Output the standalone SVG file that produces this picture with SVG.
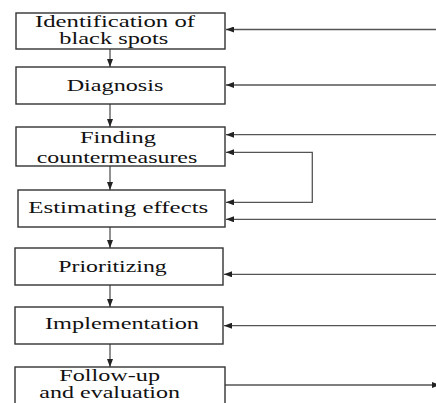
<svg xmlns="http://www.w3.org/2000/svg" width="436" height="403" viewBox="0 0 436 403">
<defs>
<style>
.box{fill:#fff;stroke:#333;stroke-width:1.4}
.t{font-family:'Liberation Serif','DejaVu Serif',serif;font-size:17px;fill:#111}
.c{fill:none;stroke:#555;stroke-width:1.3}
</style>
<marker id="ah" viewBox="0 0 8 6" refX="8" refY="3" markerWidth="8" markerHeight="6" markerUnits="userSpaceOnUse" orient="auto-start-reverse">
<path d="M0,0 L8,3 L0,6 Z" fill="#222"/>
</marker>
</defs>
<rect width="436" height="403" fill="#fff"/>
<g id="connectors">
<path class="c" d="M110,49 V67" marker-end="url(#ah)"/>
<path class="c" d="M110,104 V127" marker-end="url(#ah)"/>
<path class="c" d="M110,166 V190" marker-end="url(#ah)"/>
<path class="c" d="M110,227 V248" marker-end="url(#ah)"/>
<path class="c" d="M110,285 V307" marker-end="url(#ah)"/>
<path class="c" d="M110,344 V367" marker-end="url(#ah)"/>
<path class="c" d="M436,29.5 H226" marker-end="url(#ah)"/>
<path class="c" d="M436,85 H226" marker-end="url(#ah)"/>
<path class="c" d="M436,134.7 H226" marker-end="url(#ah)"/>
<path class="c" d="M226,152.3 H312.3 V202.3 H226" marker-start="url(#ah)" marker-end="url(#ah)"/>
<path class="c" d="M436,219.3 H226" marker-end="url(#ah)"/>
<path class="c" d="M436,274.3 H224" marker-end="url(#ah)"/>
<path class="c" d="M436,325.7 H224" marker-end="url(#ah)"/>
<path class="c" d="M225,385 H440" marker-end="url(#ah)"/>
</g>
<g id="n1">
<rect class="box" x="16" y="13" width="209" height="36"/>
<text class="t" x="35" y="27" textLength="160" lengthAdjust="spacingAndGlyphs">Identification of</text>
<text class="t" x="59.3" y="44.3" textLength="109" lengthAdjust="spacingAndGlyphs">black spots</text>
</g>
<g id="n2">
<rect class="box" x="16" y="67" width="209" height="37"/>
<text class="t" x="66.7" y="90.5" textLength="96.6" lengthAdjust="spacingAndGlyphs">Diagnosis</text>
</g>
<g id="n3">
<rect class="box" x="16" y="127" width="209" height="39"/>
<text class="t" x="80" y="143.3" textLength="76" lengthAdjust="spacingAndGlyphs">Finding</text>
<text class="t" x="36.7" y="162.7" textLength="160.6" lengthAdjust="spacingAndGlyphs">countermeasures</text>
</g>
<g id="n4">
<rect class="box" x="18" y="190" width="207" height="37"/>
<text class="t" x="28.3" y="213.3" textLength="180" lengthAdjust="spacingAndGlyphs">Estimating effects</text>
</g>
<g id="n5">
<rect class="box" x="15" y="248" width="208" height="37"/>
<text class="t" x="58.3" y="271.5" textLength="108.4" lengthAdjust="spacingAndGlyphs">Prioritizing</text>
</g>
<g id="n6">
<rect class="box" x="15" y="307" width="208" height="37"/>
<text class="t" x="45" y="329" textLength="154" lengthAdjust="spacingAndGlyphs">Implementation</text>
</g>
<g id="n7">
<rect class="box" x="15" y="367" width="210" height="42"/>
<text class="t" x="59.3" y="380.7" textLength="100.7" lengthAdjust="spacingAndGlyphs">Follow-up</text>
<text class="t" x="39.3" y="398.3" textLength="140.7" lengthAdjust="spacingAndGlyphs">and evaluation</text>
</g>
</svg>
